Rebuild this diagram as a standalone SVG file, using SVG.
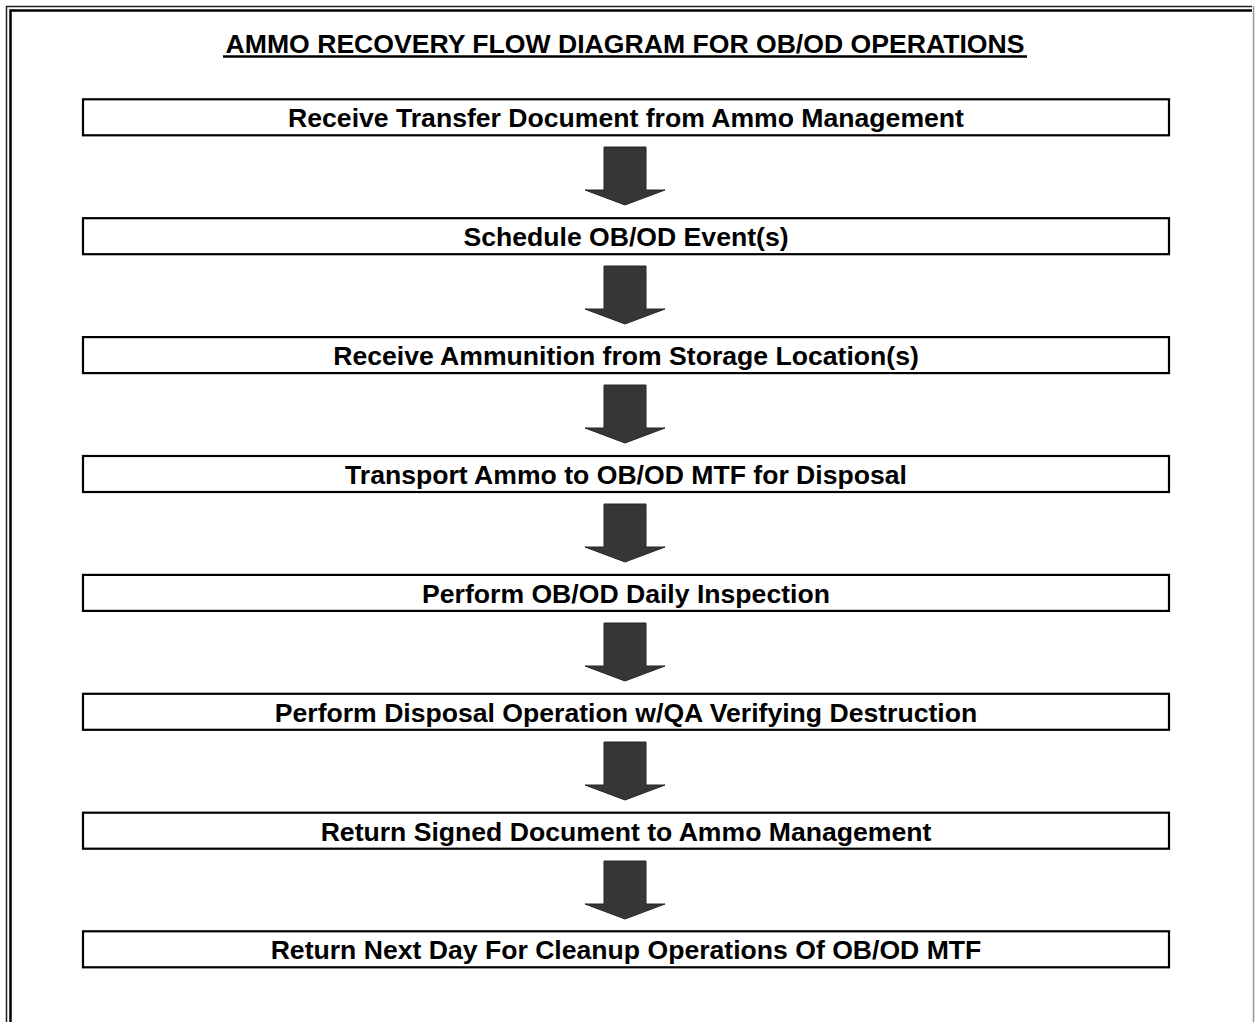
<svg xmlns="http://www.w3.org/2000/svg" width="1255" height="1022" viewBox="0 0 1255 1022">
  <defs>
    <style>
      .frame-outer { fill: none; stroke: #222; stroke-width: 1.5; }
      .frame-inner { fill: none; stroke: #000; stroke-width: 2.5; }
      .step { fill: #fff; stroke: #000; stroke-width: 2.2; }
      .label { font-family: "Liberation Sans", Arial, sans-serif; font-weight: bold; font-size: 26.6px; fill: #000; text-anchor: middle; }
      .arrow { fill: #363636; stroke: #262626; stroke-width: 1; }
    </style>
    <!-- block arrow pointing down, origin at shaft top centre -->
    <path id="down" class="arrow" d="M -21 0 H 21 V 43 H 40 L 0 58 L -40 43 H -21 Z"/>
  </defs>

  <rect width="1255" height="1022" fill="#fff"/>

  <!-- page frame (runs off the right and bottom edges) -->
  <g id="frame">
    <path class="frame-outer" d="M 6.5 1022 V 6.5 H 1252"/>
    <path class="frame-inner" d="M 10.5 1022 V 10.5 H 1252"/>
    <line x1="1253.5" y1="6" x2="1253.5" y2="1022" stroke="#999" stroke-width="1.5"/>
  </g>

  <g id="title">
    <text class="label" x="625" y="53">AMMO RECOVERY FLOW DIAGRAM FOR OB/OD OPERATIONS</text>
    <line x1="223" y1="56.5" x2="1027" y2="56.5" stroke="#000" stroke-width="2.4"/>
  </g>

  <!-- flow connectors -->
  <g id="connectors">
    <use href="#down" x="625" y="147"/>
    <use href="#down" x="625" y="266"/>
    <use href="#down" x="625" y="385"/>
    <use href="#down" x="625" y="504"/>
    <use href="#down" x="625" y="623"/>
    <use href="#down" x="625" y="742"/>
    <use href="#down" x="625" y="861"/>
  </g>

  <g id="step1">
    <rect class="step" x="83" y="99.3" width="1086" height="36"/>
    <text class="label" x="626" y="127">Receive Transfer Document from Ammo Management</text>
  </g>
  <g id="step2">
    <rect class="step" x="83" y="218.2" width="1086" height="36"/>
    <text class="label" x="626" y="246">Schedule OB/OD Event(s)</text>
  </g>
  <g id="step3">
    <rect class="step" x="83" y="337.1" width="1086" height="36"/>
    <text class="label" x="626" y="365">Receive Ammunition from Storage Location(s)</text>
  </g>
  <g id="step4">
    <rect class="step" x="83" y="456" width="1086" height="36"/>
    <text class="label" x="626" y="484">Transport Ammo to OB/OD MTF for Disposal</text>
  </g>
  <g id="step5">
    <rect class="step" x="83" y="574.9" width="1086" height="36"/>
    <text class="label" x="626" y="603">Perform OB/OD Daily Inspection</text>
  </g>
  <g id="step6">
    <rect class="step" x="83" y="693.8" width="1086" height="36"/>
    <text class="label" x="626" y="722">Perform Disposal Operation w/QA Verifying Destruction</text>
  </g>
  <g id="step7">
    <rect class="step" x="83" y="812.7" width="1086" height="36"/>
    <text class="label" x="626" y="841">Return Signed Document to Ammo Management</text>
  </g>
  <g id="step8">
    <rect class="step" x="83" y="931.3" width="1086" height="36"/>
    <text class="label" x="626" y="959">Return Next Day For Cleanup Operations Of OB/OD MTF</text>
  </g>
</svg>
